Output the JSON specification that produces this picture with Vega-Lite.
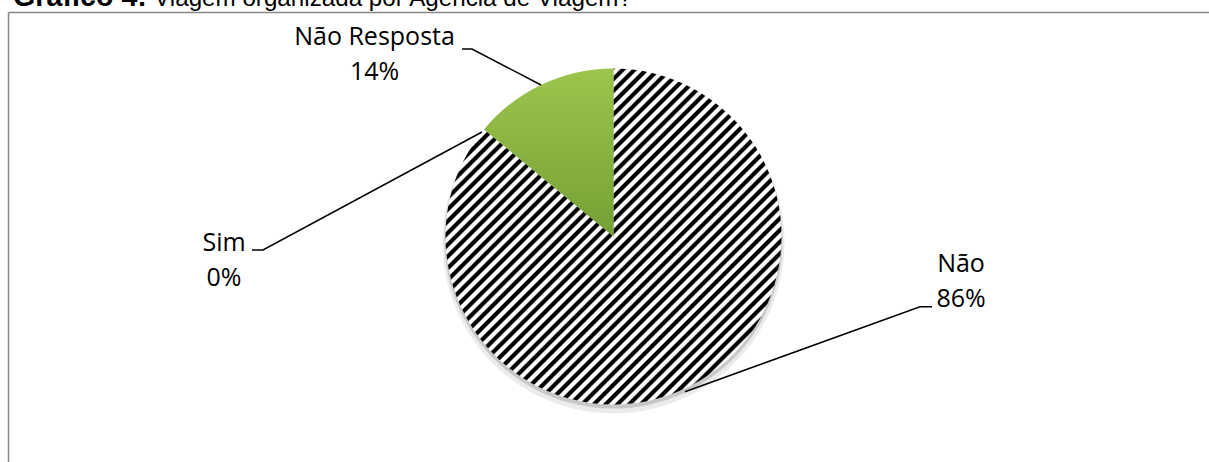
{
  "$schema": "https://vega.github.io/schema/vega-lite/v6.json",
  "width": 1201,
  "height": 450,
  "autosize": {"type": "none"},
  "padding": {"left": 8, "top": 12, "right": 0, "bottom": 0},
  "background": "white",
  "title": {
    "text": "Gráfico 4:",
    "subtitle": "\u200b\u00a0\u00a0\u00a0\u00a0\u00a0\u00a0\u00a0\u00a0\u00a0\u00a0\u00a0\u00a0\u00a0\u00a0\u00a0\u00a0\u00a0\u00a0\u00a0\u00a0\u00a0Viagem organizada por Agência de Viagem?",
    "anchor": "start",
    "frame": "group",
    "orient": "top",
    "baseline": "alphabetic",
    "font": "Liberation Sans",
    "fontSize": 28.7,
    "fontWeight": "bold",
    "color": "#000",
    "subtitleFont": "Liberation Sans",
    "subtitleFontSize": 24.2,
    "subtitleFontWeight": "normal",
    "subtitleColor": "#000",
    "subtitlePadding": -28.7,
    "offset": 0,
    "dx": 5,
    "dy": 22.5
  },
  "data": {
    "values": [
      {"resposta": "Não", "percentual": 86},
      {"resposta": "Sim", "percentual": 0},
      {"resposta": "Não Resposta", "percentual": 14}
    ]
  },
  "datasets": {
    "rotulos": [
      {"resposta": "Não", "lx": 2.0685, "ly": -0.2095},
      {"resposta": "Sim", "lx": -2.3185, "ly": -0.0893},
      {"resposta": "Não Resposta", "lx": -1.4226, "ly": 1.1399}
    ],
    "guias": [
      {"resposta": "Não Resposta", "p": 1, "gx": -0.9018, "gy": 1.1161},
      {"resposta": "Não Resposta", "p": 2, "gx": -0.8423, "gy": 1.1161},
      {"resposta": "Não Resposta", "p": 3, "gx": -0.4315, "gy": 0.9018},
      {"resposta": "Sim", "p": 1, "gx": -2.1518, "gy": -0.0804},
      {"resposta": "Sim", "p": 2, "gx": -2.0863, "gy": -0.0804},
      {"resposta": "Sim", "p": 3, "gx": -0.7827, "gy": 0.622},
      {"resposta": "Não", "p": 1, "gx": 1.8958, "gy": -0.4179},
      {"resposta": "Não", "p": 2, "gx": 1.8244, "gy": -0.4179},
      {"resposta": "Não", "p": 3, "gx": 0.4256, "gy": -0.9238}
    ]
  },
  "config": {
    "view": {"stroke": null},
    "axis": {"labels": false, "ticks": false, "grid": false, "domainColor": "#888888", "domainWidth": 1.5}
  },
  "layer": [
    {
      "mark": {"type": "arc", "outerRadius": 171, "fill": "#000", "opacity": 0.08},
      "encoding": {
        "theta": {"field": "percentual", "type": "quantitative", "stack": true},
        "x": {"datum": 0, "type": "quantitative", "scale": {"domain": [-3.6042, 3.5446], "nice": false, "zero": false}, "axis": {"orient": "top", "title": null}},
        "y": {"datum": -0.035, "type": "quantitative", "scale": {"domain": [-1.3423, 1.3363], "nice": false, "zero": false}, "axis": {"orient": "left", "title": null}}
      }
    },
    {
      "mark": {"type": "arc", "outerRadius": 169, "fill": "#000", "opacity": 0.15},
      "encoding": {
        "theta": {"field": "percentual", "type": "quantitative", "stack": true},
        "x": {"datum": 0, "type": "quantitative", "scale": {"domain": [-3.6042, 3.5446], "nice": false, "zero": false}, "axis": {"orient": "top", "title": null}},
        "y": {"datum": -0.018, "type": "quantitative", "scale": {"domain": [-1.3423, 1.3363], "nice": false, "zero": false}, "axis": {"orient": "left", "title": null}}
      }
    },
    {
      "mark": {"type": "arc", "outerRadius": 168},
      "encoding": {
        "theta": {"field": "percentual", "type": "quantitative", "stack": true},
        "x": {"datum": 0, "type": "quantitative", "scale": {"domain": [-3.6042, 3.5446], "nice": false, "zero": false}, "axis": {"orient": "top", "title": null}},
        "y": {"datum": 0, "type": "quantitative", "scale": {"domain": [-1.3423, 1.3363], "nice": false, "zero": false}, "axis": {"orient": "left", "title": null}},
        "fill": {
          "condition": {
            "test": "datum.resposta === 'Não Resposta'",
            "value": {"gradient": "linear", "x1": 0, "y1": 0, "x2": 0, "y2": 1, "stops": [{"offset": 0, "color": "#9dc44c"}, {"offset": 1, "color": "#76a035"}]}
          },
          "value": {"gradient": "linear", "x1": 0, "y1": 0, "x2": 1, "y2": 1, "stops": [
            {"offset": 0, "color": "#000"}, {"offset": 0.0061, "color": "#000"}, {"offset": 0.0088, "color": "#fff"}, {"offset": 0.0149, "color": "#fff"},
            {"offset": 0.0175, "color": "#000"}, {"offset": 0.0236, "color": "#000"}, {"offset": 0.0263, "color": "#fff"}, {"offset": 0.0324, "color": "#fff"},
            {"offset": 0.035, "color": "#000"}, {"offset": 0.0411, "color": "#000"}, {"offset": 0.0438, "color": "#fff"}, {"offset": 0.0499, "color": "#fff"},
            {"offset": 0.0525, "color": "#000"}, {"offset": 0.0586, "color": "#000"}, {"offset": 0.0613, "color": "#fff"}, {"offset": 0.0674, "color": "#fff"},
            {"offset": 0.07, "color": "#000"}, {"offset": 0.0761, "color": "#000"}, {"offset": 0.0788, "color": "#fff"}, {"offset": 0.0849, "color": "#fff"},
            {"offset": 0.0875, "color": "#000"}, {"offset": 0.0936, "color": "#000"}, {"offset": 0.0963, "color": "#fff"}, {"offset": 0.1024, "color": "#fff"},
            {"offset": 0.105, "color": "#000"}, {"offset": 0.1111, "color": "#000"}, {"offset": 0.1138, "color": "#fff"}, {"offset": 0.1199, "color": "#fff"},
            {"offset": 0.1225, "color": "#000"}, {"offset": 0.1286, "color": "#000"}, {"offset": 0.1313, "color": "#fff"}, {"offset": 0.1374, "color": "#fff"},
            {"offset": 0.14, "color": "#000"}, {"offset": 0.1461, "color": "#000"}, {"offset": 0.1488, "color": "#fff"}, {"offset": 0.1549, "color": "#fff"},
            {"offset": 0.1575, "color": "#000"}, {"offset": 0.1636, "color": "#000"}, {"offset": 0.1663, "color": "#fff"}, {"offset": 0.1724, "color": "#fff"},
            {"offset": 0.175, "color": "#000"}, {"offset": 0.1811, "color": "#000"}, {"offset": 0.1838, "color": "#fff"}, {"offset": 0.1899, "color": "#fff"},
            {"offset": 0.1925, "color": "#000"}, {"offset": 0.1986, "color": "#000"}, {"offset": 0.2013, "color": "#fff"}, {"offset": 0.2074, "color": "#fff"},
            {"offset": 0.21, "color": "#000"}, {"offset": 0.2161, "color": "#000"}, {"offset": 0.2188, "color": "#fff"}, {"offset": 0.2249, "color": "#fff"},
            {"offset": 0.2275, "color": "#000"}, {"offset": 0.2336, "color": "#000"}, {"offset": 0.2363, "color": "#fff"}, {"offset": 0.2424, "color": "#fff"},
            {"offset": 0.245, "color": "#000"}, {"offset": 0.2511, "color": "#000"}, {"offset": 0.2538, "color": "#fff"}, {"offset": 0.2599, "color": "#fff"},
            {"offset": 0.2625, "color": "#000"}, {"offset": 0.2686, "color": "#000"}, {"offset": 0.2713, "color": "#fff"}, {"offset": 0.2774, "color": "#fff"},
            {"offset": 0.28, "color": "#000"}, {"offset": 0.2861, "color": "#000"}, {"offset": 0.2888, "color": "#fff"}, {"offset": 0.2949, "color": "#fff"},
            {"offset": 0.2975, "color": "#000"}, {"offset": 0.3036, "color": "#000"}, {"offset": 0.3063, "color": "#fff"}, {"offset": 0.3124, "color": "#fff"},
            {"offset": 0.315, "color": "#000"}, {"offset": 0.3211, "color": "#000"}, {"offset": 0.3238, "color": "#fff"}, {"offset": 0.3299, "color": "#fff"},
            {"offset": 0.3325, "color": "#000"}, {"offset": 0.3386, "color": "#000"}, {"offset": 0.3413, "color": "#fff"}, {"offset": 0.3474, "color": "#fff"},
            {"offset": 0.35, "color": "#000"}, {"offset": 0.3561, "color": "#000"}, {"offset": 0.3588, "color": "#fff"}, {"offset": 0.3649, "color": "#fff"},
            {"offset": 0.3675, "color": "#000"}, {"offset": 0.3736, "color": "#000"}, {"offset": 0.3763, "color": "#fff"}, {"offset": 0.3824, "color": "#fff"},
            {"offset": 0.385, "color": "#000"}, {"offset": 0.3911, "color": "#000"}, {"offset": 0.3938, "color": "#fff"}, {"offset": 0.3999, "color": "#fff"},
            {"offset": 0.4025, "color": "#000"}, {"offset": 0.4086, "color": "#000"}, {"offset": 0.4113, "color": "#fff"}, {"offset": 0.4174, "color": "#fff"},
            {"offset": 0.42, "color": "#000"}, {"offset": 0.4261, "color": "#000"}, {"offset": 0.4288, "color": "#fff"}, {"offset": 0.4349, "color": "#fff"},
            {"offset": 0.4375, "color": "#000"}, {"offset": 0.4436, "color": "#000"}, {"offset": 0.4463, "color": "#fff"}, {"offset": 0.4524, "color": "#fff"},
            {"offset": 0.455, "color": "#000"}, {"offset": 0.4611, "color": "#000"}, {"offset": 0.4638, "color": "#fff"}, {"offset": 0.4699, "color": "#fff"},
            {"offset": 0.4725, "color": "#000"}, {"offset": 0.4786, "color": "#000"}, {"offset": 0.4813, "color": "#fff"}, {"offset": 0.4874, "color": "#fff"},
            {"offset": 0.49, "color": "#000"}, {"offset": 0.4961, "color": "#000"}, {"offset": 0.4988, "color": "#fff"}, {"offset": 0.5049, "color": "#fff"},
            {"offset": 0.5075, "color": "#000"}, {"offset": 0.5136, "color": "#000"}, {"offset": 0.5163, "color": "#fff"}, {"offset": 0.5224, "color": "#fff"},
            {"offset": 0.525, "color": "#000"}, {"offset": 0.5311, "color": "#000"}, {"offset": 0.5338, "color": "#fff"}, {"offset": 0.5399, "color": "#fff"},
            {"offset": 0.5425, "color": "#000"}, {"offset": 0.5486, "color": "#000"}, {"offset": 0.5513, "color": "#fff"}, {"offset": 0.5574, "color": "#fff"},
            {"offset": 0.56, "color": "#000"}, {"offset": 0.5661, "color": "#000"}, {"offset": 0.5688, "color": "#fff"}, {"offset": 0.5749, "color": "#fff"},
            {"offset": 0.5775, "color": "#000"}, {"offset": 0.5836, "color": "#000"}, {"offset": 0.5863, "color": "#fff"}, {"offset": 0.5924, "color": "#fff"},
            {"offset": 0.595, "color": "#000"}, {"offset": 0.6011, "color": "#000"}, {"offset": 0.6038, "color": "#fff"}, {"offset": 0.6099, "color": "#fff"},
            {"offset": 0.6125, "color": "#000"}, {"offset": 0.6186, "color": "#000"}, {"offset": 0.6213, "color": "#fff"}, {"offset": 0.6274, "color": "#fff"},
            {"offset": 0.63, "color": "#000"}, {"offset": 0.6361, "color": "#000"}, {"offset": 0.6388, "color": "#fff"}, {"offset": 0.6449, "color": "#fff"},
            {"offset": 0.6475, "color": "#000"}, {"offset": 0.6536, "color": "#000"}, {"offset": 0.6563, "color": "#fff"}, {"offset": 0.6624, "color": "#fff"},
            {"offset": 0.665, "color": "#000"}, {"offset": 0.6711, "color": "#000"}, {"offset": 0.6738, "color": "#fff"}, {"offset": 0.6799, "color": "#fff"},
            {"offset": 0.6825, "color": "#000"}, {"offset": 0.6886, "color": "#000"}, {"offset": 0.6913, "color": "#fff"}, {"offset": 0.6974, "color": "#fff"},
            {"offset": 0.7, "color": "#000"}, {"offset": 0.7061, "color": "#000"}, {"offset": 0.7088, "color": "#fff"}, {"offset": 0.7149, "color": "#fff"},
            {"offset": 0.7175, "color": "#000"}, {"offset": 0.7236, "color": "#000"}, {"offset": 0.7263, "color": "#fff"}, {"offset": 0.7324, "color": "#fff"},
            {"offset": 0.735, "color": "#000"}, {"offset": 0.7411, "color": "#000"}, {"offset": 0.7438, "color": "#fff"}, {"offset": 0.7499, "color": "#fff"},
            {"offset": 0.7525, "color": "#000"}, {"offset": 0.7586, "color": "#000"}, {"offset": 0.7613, "color": "#fff"}, {"offset": 0.7674, "color": "#fff"},
            {"offset": 0.77, "color": "#000"}, {"offset": 0.7761, "color": "#000"}, {"offset": 0.7788, "color": "#fff"}, {"offset": 0.7849, "color": "#fff"},
            {"offset": 0.7875, "color": "#000"}, {"offset": 0.7936, "color": "#000"}, {"offset": 0.7963, "color": "#fff"}, {"offset": 0.8024, "color": "#fff"},
            {"offset": 0.805, "color": "#000"}, {"offset": 0.8111, "color": "#000"}, {"offset": 0.8138, "color": "#fff"}, {"offset": 0.8199, "color": "#fff"},
            {"offset": 0.8225, "color": "#000"}, {"offset": 0.8286, "color": "#000"}, {"offset": 0.8313, "color": "#fff"}, {"offset": 0.8374, "color": "#fff"},
            {"offset": 0.84, "color": "#000"}, {"offset": 0.8461, "color": "#000"}, {"offset": 0.8488, "color": "#fff"}, {"offset": 0.8549, "color": "#fff"},
            {"offset": 0.8575, "color": "#000"}, {"offset": 0.8636, "color": "#000"}, {"offset": 0.8663, "color": "#fff"}, {"offset": 0.8724, "color": "#fff"},
            {"offset": 0.875, "color": "#000"}, {"offset": 0.8811, "color": "#000"}, {"offset": 0.8838, "color": "#fff"}, {"offset": 0.8899, "color": "#fff"},
            {"offset": 0.8925, "color": "#000"}, {"offset": 0.8986, "color": "#000"}, {"offset": 0.9013, "color": "#fff"}, {"offset": 0.9074, "color": "#fff"},
            {"offset": 0.91, "color": "#000"}, {"offset": 0.9161, "color": "#000"}, {"offset": 0.9188, "color": "#fff"}, {"offset": 0.9249, "color": "#fff"},
            {"offset": 0.9275, "color": "#000"}, {"offset": 0.9336, "color": "#000"}, {"offset": 0.9363, "color": "#fff"}, {"offset": 0.9424, "color": "#fff"},
            {"offset": 0.945, "color": "#000"}, {"offset": 0.9511, "color": "#000"}, {"offset": 0.9538, "color": "#fff"}, {"offset": 0.9599, "color": "#fff"},
            {"offset": 0.9625, "color": "#000"}, {"offset": 0.9686, "color": "#000"}, {"offset": 0.9713, "color": "#fff"}, {"offset": 0.9774, "color": "#fff"},
            {"offset": 0.98, "color": "#000"}, {"offset": 0.9861, "color": "#000"}, {"offset": 0.9888, "color": "#fff"}, {"offset": 0.9949, "color": "#fff"},
            {"offset": 0.9975, "color": "#000"}, {"offset": 1, "color": "#000"}
          ]}
        }
      }
    },
    {
      "data": {"name": "guias"},
      "mark": {"type": "line", "stroke": "#000", "strokeWidth": 1.5},
      "encoding": {
        "x": {"field": "gx", "type": "quantitative", "scale": {"domain": [-3.6042, 3.5446], "nice": false, "zero": false}, "axis": {"orient": "top", "title": null}},
        "y": {"field": "gy", "type": "quantitative", "scale": {"domain": [-1.3423, 1.3363], "nice": false, "zero": false}, "axis": {"orient": "left", "title": null}},
        "detail": {"field": "resposta"},
        "order": {"field": "p", "type": "quantitative"}
      }
    },
    {
      "transform": [
        {"lookup": "resposta", "from": {"data": {"name": "rotulos"}, "key": "resposta", "fields": ["lx", "ly"]}},
        {"calculate": "datum.resposta + '\\n' + format(datum.percentual / 100, '.0%')", "as": "rotulo"}
      ],
      "mark": {"type": "text", "align": "center", "baseline": "alphabetic", "lineBreak": "\n", "lineHeight": 35, "font": "Open Sans", "fontSize": 25, "color": "#000"},
      "encoding": {
        "x": {"field": "lx", "type": "quantitative", "scale": {"domain": [-3.6042, 3.5446], "nice": false, "zero": false}, "axis": {"orient": "top", "title": null}},
        "y": {"field": "ly", "type": "quantitative", "scale": {"domain": [-1.3423, 1.3363], "nice": false, "zero": false}, "axis": {"orient": "left", "title": null}},
        "text": {"field": "rotulo", "type": "nominal"}
      }
    }
  ]
}
